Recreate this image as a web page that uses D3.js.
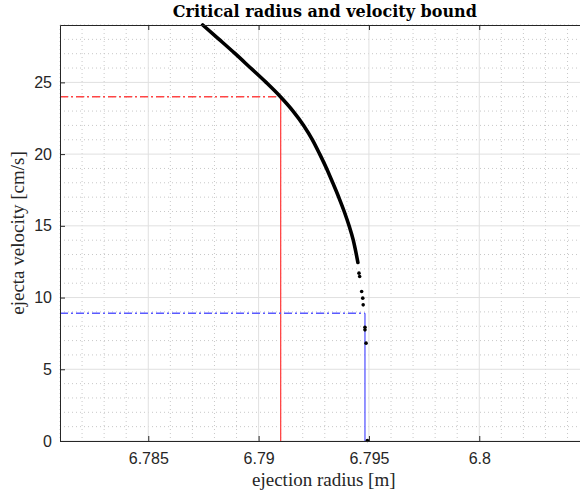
<!DOCTYPE html>
<html>
<head>
<meta charset="utf-8">
<script src="https://cdn.jsdelivr.net/npm/d3@7"></script>
<style>
  body { margin: 0; background: #fff; }
  svg { display: block; }
</style>
</head>
<body>
<div id="my_dataviz"></div>
<script>
// values
var curveRadius = [6.78747, 6.78821, 6.78894, 6.78964, 6.79034, 6.79099, 6.79156, 6.79204,
  6.79244, 6.79277, 6.79308, 6.79336, 6.79363, 6.79388, 6.79410, 6.79429, 6.79443, 6.79450];
var curveVelocity = [29.0, 28, 27, 26, 25, 24, 23, 22, 21, 20, 19, 18, 17, 16, 15, 14, 13, 12.44];

var pointRadius = [6.79455, 6.79458, 6.79467, 6.79472, 6.79474, 6.79482, 6.79482, 6.79487, 6.79493];
var pointVelocity = [11.70, 11.47, 10.42, 9.96, 9.49, 7.93, 7.75, 6.82, 0.03];

var criticalRadius = [6.79100, 6.79482];
var velocityBound = [24.0, 8.9];
var boundColors = ["#ff4545", "#5a5aff"];

var xTicks = [6.785, 6.79, 6.795, 6.8];
var yTicks = [0, 5, 10, 15, 20, 25];
var xMinor = d3.range(6.781, 6.8051, 0.001);
var yMinor = d3.range(0, 30, 1);

// set the dimensions and margins of the graph
var margin = { top: 25, left: 60 },
  width = 529.6,
  height = 416;

var svg = d3
  .select("#my_dataviz")
  .append("svg")
  .attr("width", 580)
  .attr("height", 492);

var g = svg.append("g")
  .attr("transform", "translate(" + margin.left + "," + margin.top + ")");

var x = d3.scaleLinear().domain([6.781, 6.805]).range([0, width]);
var y = d3.scaleLinear().domain([0, 29]).range([height, 0]);

function isMajor(v, ticks) {
  return ticks.some(function (t) { return Math.abs(t - v) < 1e-7; });
}

// minor grid (dotted)
g.selectAll(".xminor")
  .data(xMinor.filter(function (d) { return !isMajor(d, xTicks); }))
  .enter().append("line")
  .attr("x1", function (d) { return x(d); })
  .attr("x2", function (d) { return x(d); })
  .attr("y1", 0).attr("y2", height)
  .style("stroke", "#c8c8c8")
  .style("stroke-dasharray", "1,3");

g.selectAll(".yminor")
  .data(yMinor.filter(function (d) { return d % 5 !== 0; }))
  .enter().append("line")
  .attr("x1", 0).attr("x2", width)
  .attr("y1", function (d) { return y(d); })
  .attr("y2", function (d) { return y(d); })
  .style("stroke", "#c8c8c8")
  .style("stroke-dasharray", "1,3");

// major grid
g.selectAll(".xgrid")
  .data(xTicks)
  .enter().append("line")
  .attr("x1", function (d) { return x(d); })
  .attr("x2", function (d) { return x(d); })
  .attr("y1", 0).attr("y2", height)
  .style("stroke", "#e0e0e0");

g.selectAll(".ygrid")
  .data(yTicks)
  .enter().append("line")
  .attr("x1", 0).attr("x2", width)
  .attr("y1", function (d) { return y(d); })
  .attr("y2", function (d) { return y(d); })
  .style("stroke", "#e0e0e0");

// bound lines
criticalRadius.forEach(function (r, i) {
  g.append("line")
    .attr("x1", 0).attr("x2", x(r))
    .attr("y1", y(velocityBound[i])).attr("y2", y(velocityBound[i]))
    .style("stroke", boundColors[i])
    .style("stroke-width", 1.5)
    .style("stroke-dasharray", "8,3,2,3");
  g.append("line")
    .attr("x1", x(r)).attr("x2", x(r))
    .attr("y1", y(velocityBound[i])).attr("y2", height)
    .style("stroke", boundColors[i])
    .style("stroke-width", 1.3);
});

// the dense part of the trace
var curve = d3.line()
  .x(function (d) { return x(d[0]); })
  .y(function (d) { return y(d[1]); })
  .curve(d3.curveMonotoneX);

g.append("path")
  .datum(d3.zip(curveRadius, curveVelocity))
  .attr("d", curve)
  .style("fill", "none")
  .style("stroke", "#000")
  .style("stroke-width", 3.6)
  .style("stroke-linecap", "round");

// the loose points
g.selectAll(".dot")
  .data(d3.zip(pointRadius, pointVelocity))
  .enter().append("circle")
  .attr("cx", function (d) { return x(d[0]); })
  .attr("cy", function (d) { return y(d[1]); })
  .attr("r", 1.8)
  .style("fill", "#000");

// axes
var axisColor = "#262626";
g.append("g")
  .attr("transform", "translate(0," + height + ")")
  .call(d3.axisBottom(x).tickValues(xTicks).tickSizeInner(-5).tickSizeOuter(0).tickPadding(12)
    .tickFormat(function (d) { return d3.format("")(+d.toFixed(3)); }));
g.append("g")
  .call(d3.axisLeft(y).tickValues(yTicks).tickSizeInner(-5).tickSizeOuter(0).tickPadding(8));

// top and right box
g.append("g")
  .call(d3.axisTop(x).tickValues(xTicks).tickSizeInner(-5).tickSizeOuter(0).tickFormat(""));
g.append("g")
  .attr("transform", "translate(" + width + ",0)")
  .call(d3.axisRight(y).tickValues(yTicks).tickSizeInner(-5).tickSizeOuter(0).tickFormat(""));

g.selectAll(".domain, .tick line").style("stroke", axisColor);
g.selectAll(".tick text")
  .style("font-family", "'Liberation Sans', Arial, sans-serif")
  .style("font-size", "16px")
  .style("fill", axisColor);

// labels
svg.append("text")
  .attr("x", margin.left + width / 2)
  .attr("y", 17)
  .attr("text-anchor", "middle")
  .style("font-family", "'DejaVu Serif', serif")
  .style("font-weight", "bold")
  .style("font-size", "16px")
  .text("Critical radius and velocity bound");

svg.append("text")
  .attr("x", margin.left + width / 2 - 1)
  .attr("y", 486)
  .attr("text-anchor", "middle")
  .style("font-family", "'Liberation Serif', serif")
  .style("font-size", "19px")
  .style("fill", axisColor)
  .text("ejection radius [m]");

svg.append("text")
  .attr("transform", "translate(24," + (margin.top + height / 2) + ") rotate(-90)")
  .attr("text-anchor", "middle")
  .style("font-family", "'Liberation Serif', serif")
  .style("font-size", "19px")
  .style("fill", axisColor)
  .text("ejecta velocity [cm/s]");
</script>
</body>
</html>
